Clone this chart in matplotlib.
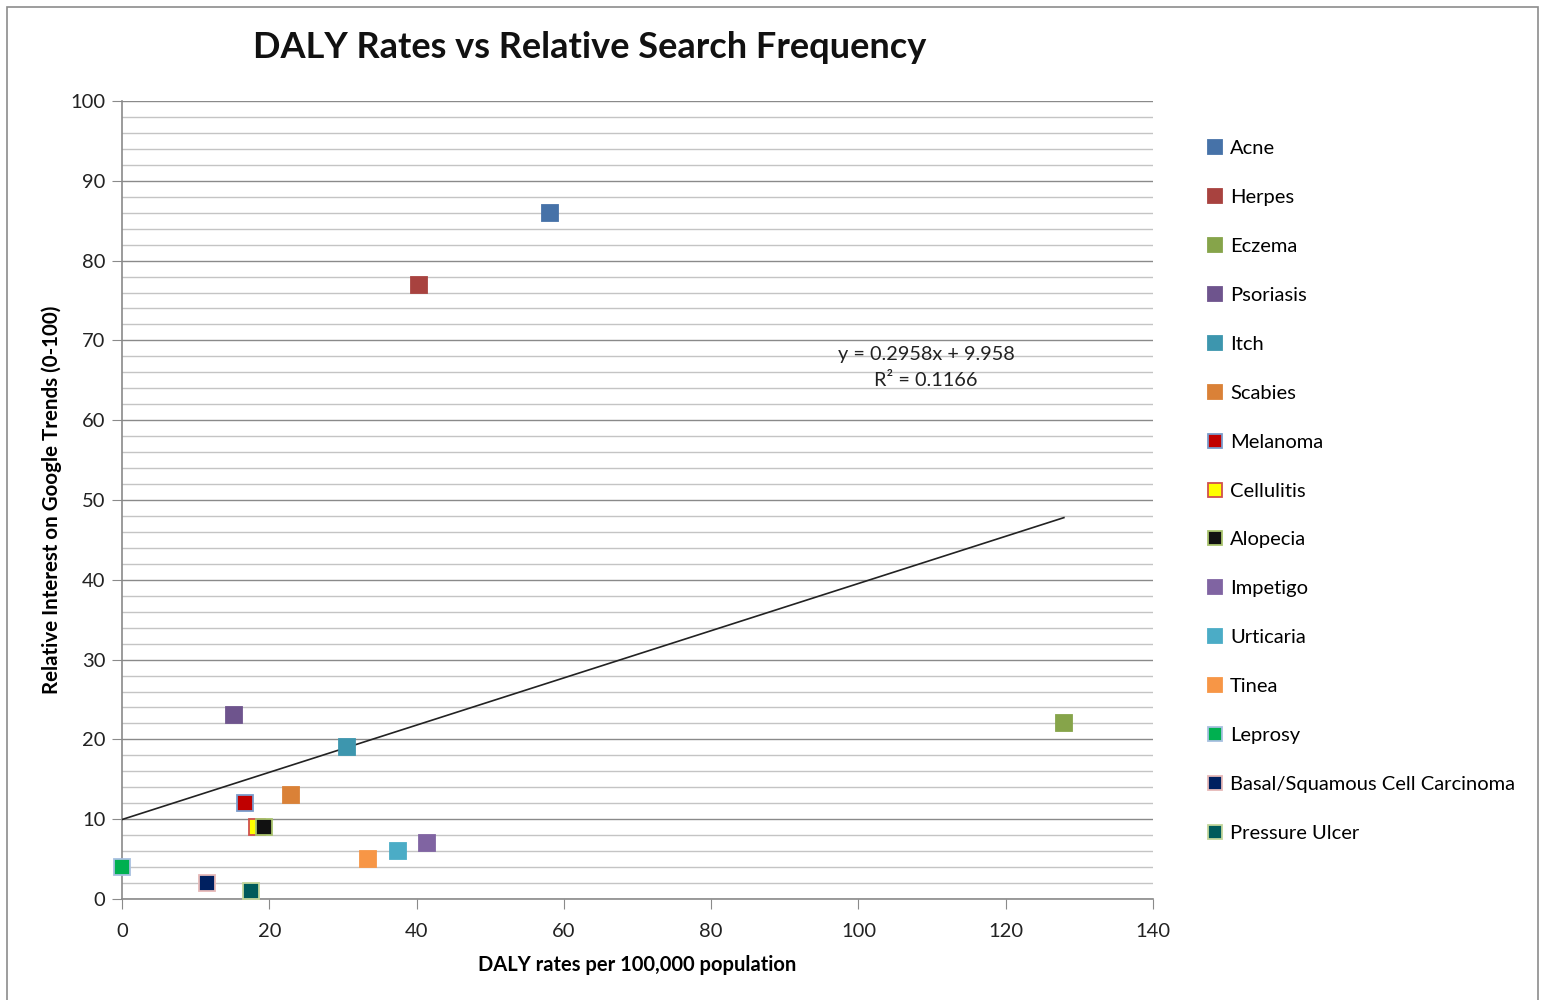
import matplotlib
matplotlib.use("Agg")
import matplotlib.pyplot as plt
import numpy as np
from matplotlib.patches import Rectangle
from matplotlib.ticker import MultipleLocator

plt.rcParams['font.family'] = ['Lato', 'DejaVu Sans']

diseases = ["Acne", "Herpes", "Eczema", "Psoriasis", "Itch", "Scabies", "Melanoma",
            "Cellulitis", "Alopecia", "Impetigo", "Urticaria", "Tinea", "Leprosy",
            "Basal/Squamous Cell Carcinoma", "Pressure Ulcer"]
daly_rates = [58.1, 40.3, 127.9, 15.2, 30.6, 22.9, 16.7, 18.3, 19.3, 41.4, 37.5, 33.4, 0.0, 11.5, 17.5]
search_interest = [86, 77, 22, 23, 19, 13, 12, 9, 9, 7, 6, 5, 4, 2, 1]
face_colors = ["#4672A8", "#A8423F", "#86A44A", "#6E548D", "#3D96AE", "#DA8137", "#C00000",
               "#FFFF00", "#111111", "#8064A2", "#4BACC6", "#F79646", "#00B050", "#002060", "#005B5B"]
edge_colors = ["#4672A8", "#A8423F", "#86A44A", "#6E548D", "#3D96AE", "#DA8137", "#7A9CCB",
               "#D0504D", "#A9C46E", "#8064A2", "#4BACC6", "#F79646", "#A8C0E0", "#E6B9B8", "#C3D69B"]
trend_slope = 0.2958
trend_intercept = 9.958
trend_text = "y = 0.2958x + 9.958\nR² = 0.1166"

fig = plt.figure(figsize=(15.44, 10.0), dpi=100)
fig.patches.append(Rectangle((7/1544, -0.01), (1538-7)/1544, 1.0 - 7/1000 + 0.01,
                             transform=fig.transFigure, fill=False, edgecolor="#8c8c8c", linewidth=1.2))

ax = fig.add_axes([122/1544, 1 - 899/1000, (1153-122)/1544, (899-101)/1000])
ax.set_xlim(0, 140)
ax.set_ylim(0, 100)
ax.xaxis.set_major_locator(MultipleLocator(20))
ax.yaxis.set_major_locator(MultipleLocator(10))
ax.yaxis.set_minor_locator(MultipleLocator(2))
ax.grid(True, which='major', axis='y', color='#8a8a8a', linewidth=1.0, zorder=0)
ax.grid(True, which='minor', axis='y', color='#c4c4c4', linewidth=1.0, zorder=0)
ax.set_axisbelow(True)
for s in ['top', 'right']:
    ax.spines[s].set_visible(False)
for s in ['left', 'bottom']:
    ax.spines[s].set_color('#8a8a8a')
    ax.spines[s].set_linewidth(1.2)
ax.tick_params(which='major', direction='out', length=7, color='#8a8a8a', labelsize=14.5,
               labelcolor='#222222')
ax.tick_params(axis='x', which='major', pad=10)
ax.tick_params(axis='y', which='major', pad=5)
ax.tick_params(which='minor', length=0)

for name, x, y, fc, ec in zip(diseases, daly_rates, search_interest, face_colors, edge_colors):
    ax.plot([x], [y], linestyle='none', marker='s', markersize=11.5, markerfacecolor=fc,
            markeredgecolor=ec, markeredgewidth=1.3, label=name, zorder=4, clip_on=False)

xs = np.array([0, max(daly_rates)])
ax.plot(xs, trend_slope * xs + trend_intercept, color='#222222', linewidth=1.2, zorder=3)
ax.text(109.2, 66.6, trend_text, ha='center', va='center', fontsize=14.3, color='#222222',
        linespacing=1.6, zorder=5)

ax.set_xlabel("DALY rates per 100,000 population", fontsize=14.5, fontweight='bold', labelpad=11)
ax.set_ylabel("Relative Interest on Google Trends (0-100)", fontsize=14.8, fontweight='bold', labelpad=6)
fig.text(590/1544, 1 - 47/1000, "DALY Rates vs Relative Search Frequency", ha='center', va='center',
         fontsize=26, fontweight='bold', color='#111111')

leg = ax.legend(loc='upper left', bbox_to_anchor=(1199/1544, 1 - 132/1000), bbox_transform=fig.transFigure,
                frameon=False, fontsize=14.5, labelspacing=1.58, handlelength=0.75, handletextpad=0.4,
                markerscale=0.9, borderaxespad=0)

fig.savefig("out.png", dpi=100)
